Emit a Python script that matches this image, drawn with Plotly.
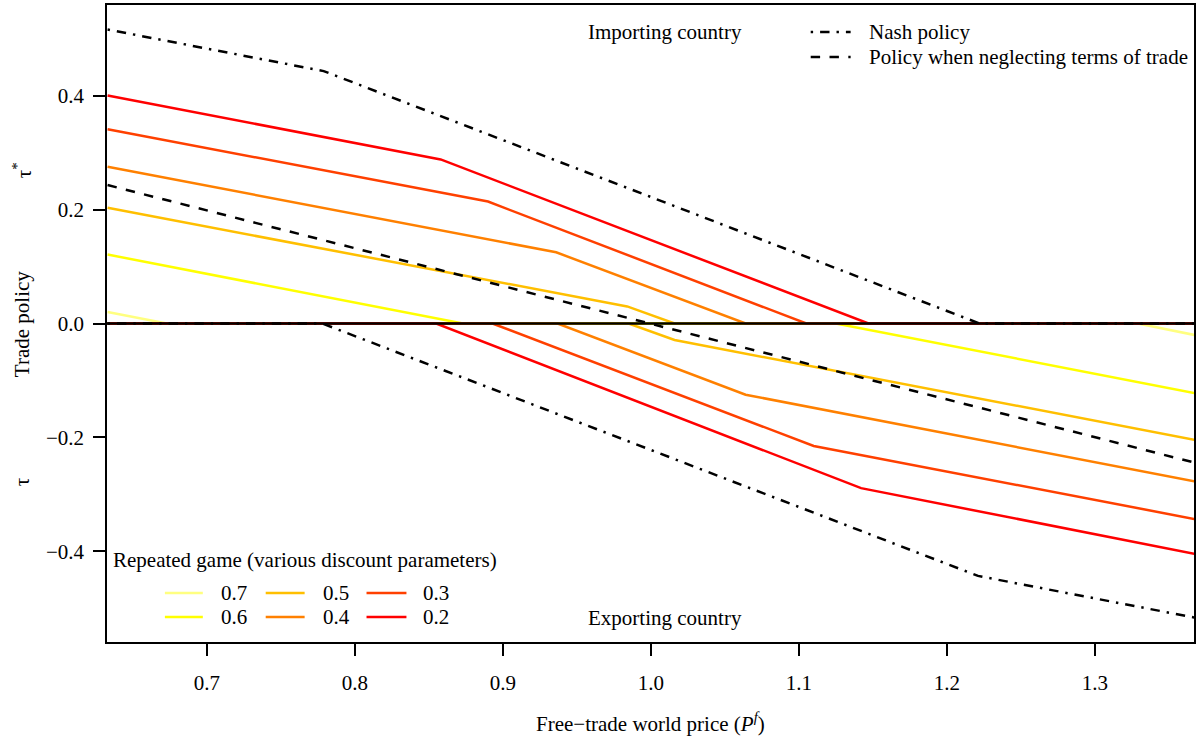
import plotly.graph_objects as go

# ---------------- data ----------------
discount = ["0.7", "0.6", "0.5", "0.4", "0.3", "0.2"]
colors = ["#FFFF80", "#FFFF00", "#FFBF00", "#FF8000", "#FF4000", "#FF0000"]

# Importing country: tau* as function of free-trade price
imp_p = {
    "0.7": [0.633, 0.673, 1.367],
    "0.6": [0.633, 0.873, 1.367],
    "0.5": [0.633, 0.984, 1.016, 1.367],
    "0.4": [0.633, 0.936, 1.064, 1.367],
    "0.3": [0.633, 0.890, 1.105, 1.367],
    "0.2": [0.633, 0.858, 1.147, 1.367],
}
imp_tau = {
    "0.7": [0.020, 0.0, 0.0],
    "0.6": [0.121, 0.0, 0.0],
    "0.5": [0.203, 0.030, 0.0, 0.0],
    "0.4": [0.275, 0.125, 0.0, 0.0],
    "0.3": [0.341, 0.214, 0.0, 0.0],
    "0.2": [0.400, 0.288, 0.0, 0.0],
}
# Exporting country: tau
exp_p = {
    "0.7": [0.633, 1.329, 1.367],
    "0.6": [0.633, 1.125, 1.367],
    "0.5": [0.633, 0.985, 1.016, 1.367],
    "0.4": [0.633, 0.937, 1.064, 1.367],
    "0.3": [0.633, 0.893, 1.110, 1.367],
    "0.2": [0.633, 0.855, 1.142, 1.367],
}
exp_tau = {
    "0.7": [0.0, 0.0, -0.020],
    "0.6": [0.0, 0.0, -0.122],
    "0.5": [0.0, 0.0, -0.029, -0.204],
    "0.4": [0.0, 0.0, -0.125, -0.277],
    "0.3": [0.0, 0.0, -0.215, -0.343],
    "0.2": [0.0, 0.0, -0.289, -0.404],
}

nash_imp_p = [0.633, 0.779, 1.222, 1.367]
nash_imp_tau = [0.516, 0.443, 0.0, 0.0]
nash_exp_p = [0.633, 0.778, 1.221, 1.367]
nash_exp_tau = [0.0, 0.0, -0.443, -0.516]

neglect_p = [0.633, 1.0, 1.367]
neglect_tau = [0.243, 0.0, -0.244]

x_ticks = [0.7, 0.8, 0.9, 1.0, 1.1, 1.2, 1.3]
y_ticks = [-0.4, -0.2, 0.0, 0.2, 0.4]

# ---------------- figure ----------------
W, H = 1198, 742
L, R, T, B = 107, 2, 5, 100
FONT = "Liberation Serif, Times New Roman, Times, serif"
FS = 21

def px(x):
    return (x - L) / (W - L - R)

def py(y):
    return (H - B - y) / (H - B - T)

fig = go.Figure()

for d, c in zip(discount, colors):
    fig.add_trace(go.Scatter(x=imp_p[d], y=imp_tau[d], mode="lines",
                             line=dict(color=c, width=2.5), showlegend=False,
                             hoverinfo="skip"))
    fig.add_trace(go.Scatter(x=exp_p[d], y=exp_tau[d], mode="lines",
                             line=dict(color=c, width=2.5), showlegend=False,
                             hoverinfo="skip"))

DASHDOT = "2.4px,7px,9.4px,7px"
DASH = "9.4px,9.4px"
fig.add_trace(go.Scatter(x=neglect_p, y=neglect_tau, mode="lines",
                         line=dict(color="black", width=2.5, dash=DASH),
                         showlegend=False, hoverinfo="skip"))
fig.add_trace(go.Scatter(x=nash_imp_p, y=nash_imp_tau, mode="lines",
                         line=dict(color="black", width=2.5, dash=DASHDOT),
                         showlegend=False, hoverinfo="skip"))
fig.add_trace(go.Scatter(x=nash_exp_p, y=nash_exp_tau, mode="lines",
                         line=dict(color="black", width=2.5, dash=DASHDOT),
                         showlegend=False, hoverinfo="skip"))

shapes = []
# zero line
shapes.append(dict(type="line", xref="paper", yref="y", x0=0, x1=1, y0=0, y1=0,
                   line=dict(color="black", width=2.5), layer="above"))

annotations = []

def text(x, y, s, anchor="left", angle=0, size=FS):
    annotations.append(dict(xref="paper", yref="paper", x=px(x), y=py(y), text=s,
                            showarrow=False, xanchor=anchor, yanchor="middle",
                            textangle=angle, font=dict(family=FONT, size=size, color="black")))

def seg(x0, x1, y, color, dash="solid"):
    shapes.append(dict(type="line", xref="paper", yref="paper",
                       x0=px(x0), x1=px(x1), y0=py(y), y1=py(y),
                       line=dict(color=color, width=2.5, dash=dash)))

# top-right legend
seg(812, 852, 32, "black", DASHDOT)
seg(812, 852, 57, "black", DASH)
text(868, 32, "Nash policy")
text(868, 57, "Policy when neglecting terms of trade")

# region labels
text(666, 32, "Importing country", anchor="center")
text(666, 618, "Exporting country", anchor="center")

# bottom-left legend
text(111, 560, "Repeated game (various discount parameters)")
cols = [(165, 203, 219), (266, 305, 321), (367, 407, 422)]
rows = [593, 617]
order = [["0.7", "0.5", "0.3"], ["0.6", "0.4", "0.2"]]
for ri, rowy in enumerate(rows):
    for ci, (s0, s1, tx) in enumerate(cols):
        d = order[ri][ci]
        seg(s0, s1, rowy, colors[discount.index(d)])
        text(tx, rowy, d)

# axis titles
text(652, 722, "Free\u2212trade world price (<i>P</i><sup><i>f</i></sup>)", anchor="center")
text(22, 324, "Trade policy", anchor="center", angle=-90)
text(22, 170, "\u03c4<sup>*</sup>", anchor="center", angle=-90)
text(22, 482, "\u03c4", anchor="center", angle=-90)

axis_common = dict(showline=True, linecolor="black", linewidth=1.5, mirror=True,
                   ticks="outside", ticklen=12, tickwidth=1.5, tickcolor="black",
                   showgrid=False, zeroline=False,
                   tickfont=dict(family=FONT, size=FS, color="black"),
                   tickformat=".1f")

fig.update_layout(
    width=W, height=H,
    margin=dict(l=L, r=R, t=T, b=B, pad=0),
    paper_bgcolor="white", plot_bgcolor="white",
    showlegend=False,
    xaxis=dict(range=[0.6326, 1.3669], tickvals=x_ticks, ticklabelstandoff=9, **axis_common),
    yaxis=dict(range=[-0.559, 0.559], tickvals=y_ticks, ticklabelstandoff=5, **axis_common),
    shapes=shapes,
    annotations=annotations,
    font=dict(family=FONT, size=FS, color="black"),
)

fig.write_html("out.html", config={"displayModeBar": False},
               post_script="document.body.style.margin='0px';document.body.style.overflow='hidden';")
